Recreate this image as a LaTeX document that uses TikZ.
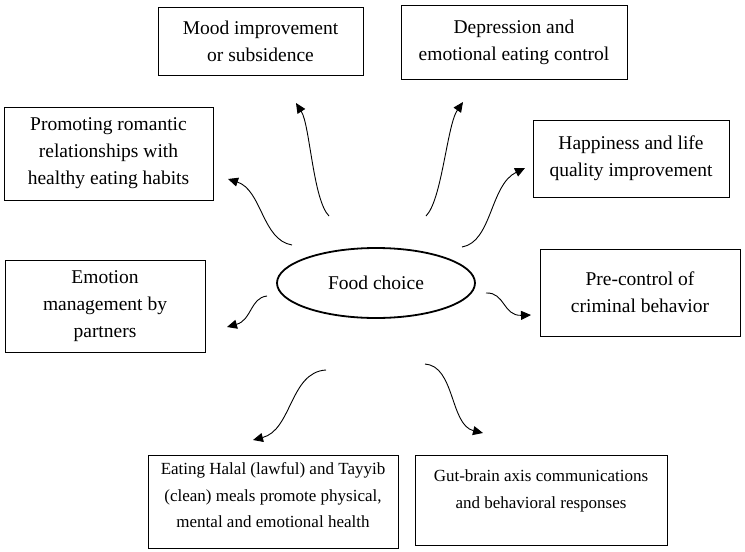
\documentclass[tikz,border=0pt]{standalone}
\usepackage{fontspec}
\setmainfont{Liberation Serif}
\usetikzlibrary{arrows.meta,shapes.geometric}
\begin{document}
\begin{tikzpicture}[x=1pt,y=-1pt,
  box/.style={draw, line width=0.9pt, rectangle, align=center, inner sep=0pt,
    font=\fontsize{19.5}{27}\selectfont},
  smallbox/.style={box, font=\fontsize{17}{26.5}\selectfont},
  hub/.style={draw, ellipse, line width=1.8pt, inner sep=0pt,
    minimum width=198pt, minimum height=70pt, font=\fontsize{19.5}{27}\selectfont},
  curvearrow/.style={line width=0.9pt, -{Triangle[length=10pt,width=9pt]}}]
\useasboundingbox[fill=white] (0,0) rectangle (745,552);

\node[hub] (food) at (376,283) {Food choice};

\node[box, minimum width=205pt, minimum height=68pt] (mood) at (260.5,41) {Mood improvement\\or subsidence};
\node[box, minimum width=226pt, minimum height=74pt] (dep) at (514,42) {Depression and\\emotional eating control};
\node[box, minimum width=209pt, minimum height=93pt] (rom) at (108.5,153.5) {Promoting romantic\\relationships with\\healthy eating habits};
\node[box, minimum width=196pt, minimum height=77pt] (hap) at (631,158.5) {Happiness and life\\quality improvement};
\node[box, minimum width=200pt, minimum height=92pt] (emo) at (105,306) {Emotion\\management by\\partners};
\node[box, minimum width=200pt, minimum height=87pt] (pre) at (640,292.5) {Pre-control of\\criminal behavior};
\node[smallbox, minimum width=250pt, minimum height=93pt, text depth=12pt] (halal) at (273,501.5) {Eating Halal (lawful) and Tayyib\\(clean) meals promote physical,\\mental and emotional health};
\node[smallbox, minimum width=252pt, minimum height=90pt, text depth=22pt] (gut) at (541,500) {Gut-brain axis communications\\and behavioral responses};

% arrow end points
\coordinate (s1) at (329,216);  \coordinate (e1) at (296,103);
\coordinate (s2) at (426,216);  \coordinate (e2) at (463,102);
\coordinate (s3) at (292,245);  \coordinate (e3) at (228,179);
\coordinate (s4) at (462,247);  \coordinate (e4) at (525,168);
\coordinate (s5) at (267,296);  \coordinate (e5) at (227,327);
\coordinate (s6) at (486,293);  \coordinate (e6) at (531,315);
\coordinate (s7) at (326,370);  \coordinate (e7) at (253,440);
\coordinate (s8) at (425,364);  \coordinate (e8) at (483,433);

\draw[curvearrow] (s1) .. controls (313,200) and (310,125) .. (e1);
\draw[curvearrow] (s2) .. controls (442,200) and (447,125) .. (e2);
\draw[curvearrow] (s3) .. controls (262,240) and (262,190) .. (e3);
\draw[curvearrow] (s4) .. controls (492,242) and (490,185) .. (e4);
\draw[curvearrow] (s5) .. controls (250,298) and (252,320) .. (e5);
\draw[curvearrow] (s6) .. controls (505,292) and (503,316) .. (e6);
\draw[curvearrow] (s7) .. controls (290,372) and (292,430) .. (e7);
\draw[curvearrow] (s8) .. controls (455,366) and (450,425) .. (e8);
\end{tikzpicture}
\end{document}
